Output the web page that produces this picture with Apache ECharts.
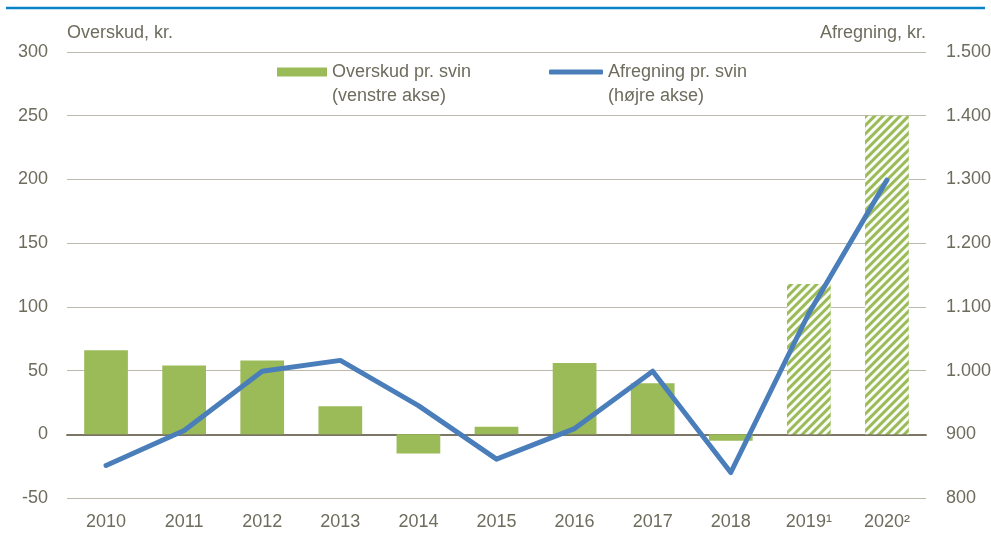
<!DOCTYPE html>
<html><head><meta charset="utf-8">
<script src="https://cdn.jsdelivr.net/npm/echarts@6/dist/echarts.min.js"></script>
<style>html,body{margin:0;padding:0;background:#fff}#c{width:991px;height:535px}</style>
</head><body><div id="c"></div>
<script>
const years = ['2010','2011','2012','2013','2014','2015','2016','2017','2018','2019¹','2020²'];
const overskud = [66, 54, 58, 22, -15, 6, 56, 40, -5, 118, 250];
const afregning = [851, 906, 999, 1016, 945, 861, 909, 999, 840, 1090, 1299];
const hatched = [false,false,false,false,false,false,false,false,false,true,true];
const leftTicks = {min:-50, max:300, interval:50};
const rightTicks = {min:800, max:1500, interval:100};

const FONT = '"Liberation Sans", Arial, sans-serif';
const FS = 18;
const TXT = '#6e6c5d';
const GREEN = '#9bbb59';
const BLUE = '#4a7ebb';

const chart = echarts.init(document.getElementById('c'), null, {renderer:'canvas'});
const decal = {symbol:'rect', dashArrayX:[1,0], dashArrayY:[3,3], rotation:-Math.PI/4, color:'rgba(255,255,255,0.95)', symbolSize:1};
chart.setOption({
  animation:false,
  backgroundColor:'#fff',
  textStyle:{fontFamily:FONT},
  graphic:[{type:'line', shape:{x1:6,y1:8,x2:985,y2:8}, style:{stroke:'#0a84c6', lineWidth:2.5}}],
  grid:{left:67, right:65, top:52, bottom:37, containLabel:false, outerBoundsMode:'none'},
  legend:[
    {data:[{name:'Overskud pr. svin', icon:'rect'}], left:277, top:36, padding:0, itemWidth:50, itemHeight:9, itemGap:5,
     formatter: n => ' \n' + n + '\n(venstre akse)',
     textStyle:{color:TXT, fontSize:FS, fontFamily:FONT, lineHeight:24}},
    {data:[{name:'Afregning pr. svin', icon:'roundRect', itemStyle:{color:BLUE}}], left:549, top:36, padding:0, itemWidth:54, itemHeight:5, itemGap:5,
     formatter: n => ' \n' + n + '\n(højre akse)',
     textStyle:{color:TXT, fontSize:FS, fontFamily:FONT, lineHeight:24}}
  ],
  xAxis:{type:'category', data:years,
    axisLine:{show:true, onZero:true, lineStyle:{color:'#7a7565', width:1.8}},
    axisTick:{show:false},
    axisLabel:{color:TXT, fontSize:FS, fontFamily:FONT, margin:15}},
  yAxis:[
    {type:'value', min:leftTicks.min, max:leftTicks.max, interval:leftTicks.interval,
     name:'Overskud, kr.', nameLocation:'end', nameGap:19,
     nameTextStyle:{color:TXT, fontSize:FS, fontFamily:FONT, align:'left', verticalAlign:'middle'},
     axisLine:{show:false}, axisTick:{show:false},
     axisLabel:{color:TXT, fontSize:FS, fontFamily:FONT, margin:19},
     splitLine:{lineStyle:{color:'#bdb9ad', width:1.2}}},
    {type:'value', min:rightTicks.min, max:rightTicks.max, interval:rightTicks.interval,
     name:'Afregning, kr.', nameLocation:'end', nameGap:19,
     nameTextStyle:{color:TXT, fontSize:FS, fontFamily:FONT, align:'right', verticalAlign:'middle'},
     axisLine:{show:false}, axisTick:{show:false},
     axisLabel:{color:TXT, fontSize:FS, fontFamily:FONT, margin:20,
       formatter: v => v >= 1000 ? Math.floor(v/1000) + '.' + String(v%1000).padStart(3,'0') : String(v)},
     splitLine:{show:false}}
  ],
  series:[
    {name:'Overskud pr. svin', type:'bar', yAxisIndex:0, barWidth:'56%',
     itemStyle:{color:GREEN},
     data: overskud.map((v,i) => hatched[i] ? {value:v, itemStyle:{color:GREEN, decal:decal}} : v)},
    {name:'Afregning pr. svin', type:'line', yAxisIndex:1, symbol:'none', z:5,
     lineStyle:{color:BLUE, width:5, cap:'round', join:'round'}, itemStyle:{color:BLUE},
     data: afregning}
  ]
});
</script></body></html>
